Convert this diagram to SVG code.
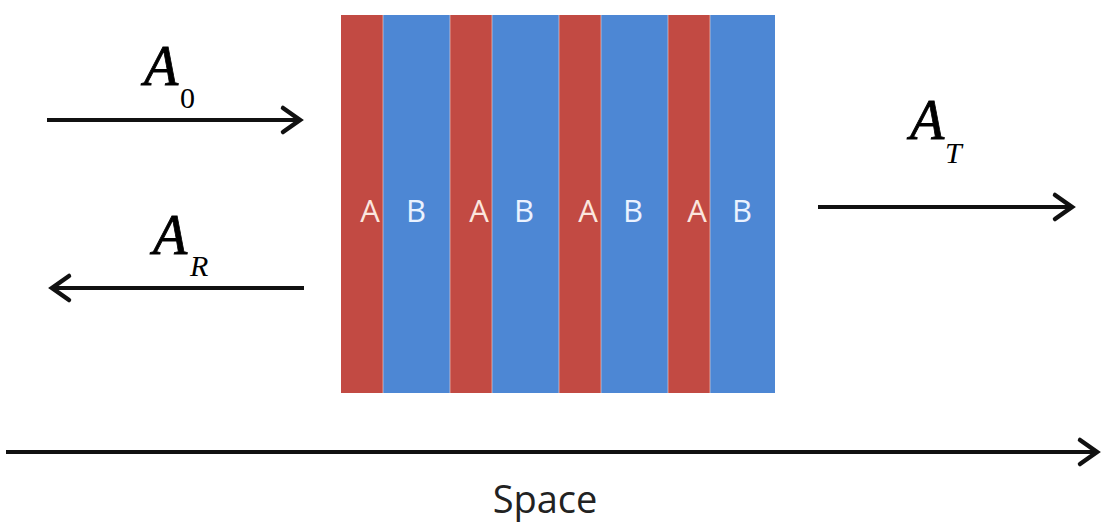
<svg xmlns="http://www.w3.org/2000/svg" width="1103" height="529" viewBox="0 0 1103 529">
  <style>
    .red { fill: #C24A43; }
    .blue { fill: #4D87D4; }
    .sep { stroke: #F4D9D4; stroke-width: 1; stroke-opacity: 0.6; }
    .lbl { font-family: "Open Sans", "Liberation Sans", sans-serif; font-size: 31px; text-anchor: middle; }
    .la { fill: #FBE6DE; }
    .lb { fill: #EAF2FF; }
    .math { font-family: "Liberation Serif", "DejaVu Serif", serif; fill: #000; }
    .big { font-size: 56px; font-style: italic; stroke: #000; stroke-width: 0.8; }
    .sub { font-size: 30px; }
    .it { font-style: italic; }
    .arr { stroke: #111; stroke-width: 4; fill: none; }
    .space { font-family: "Open Sans", "Liberation Sans", sans-serif; font-size: 38px; fill: #222; text-anchor: middle; }
  </style>
  <defs>
    <marker id="head" markerUnits="userSpaceOnUse" orient="auto" markerWidth="30" markerHeight="30" refX="0" refY="0" viewBox="-22 -15 26 30" overflow="visible">
      <path d="M-17,-12 L0,0 L-17,12" fill="none" stroke="#111" stroke-width="4.5" stroke-linejoin="miter" stroke-linecap="round"/>
    </marker>
  </defs>
  <rect width="1103" height="529" fill="#fff"/>

  <g id="stack">
    <rect class="red" x="341" y="15" width="42" height="378"/>
    <rect class="blue" x="383" y="15" width="67" height="378"/>
    <rect class="red" x="450" y="15" width="42" height="378"/>
    <rect class="blue" x="492" y="15" width="67" height="378"/>
    <rect class="red" x="559" y="15" width="42" height="378"/>
    <rect class="blue" x="601" y="15" width="67" height="378"/>
    <rect class="red" x="668" y="15" width="42" height="378"/>
    <rect class="blue" x="710" y="15" width="65" height="378"/>
    <line class="sep" x1="383" y1="15" x2="383" y2="393"/>
    <line class="sep" x1="450" y1="15" x2="450" y2="393"/>
    <line class="sep" x1="492" y1="15" x2="492" y2="393"/>
    <line class="sep" x1="559" y1="15" x2="559" y2="393"/>
    <line class="sep" x1="601" y1="15" x2="601" y2="393"/>
    <line class="sep" x1="668" y1="15" x2="668" y2="393"/>
    <line class="sep" x1="710" y1="15" x2="710" y2="393"/>
    <text class="lbl la" x="370" y="222">A</text>
    <text class="lbl lb" x="416" y="222">B</text>
    <text class="lbl la" x="479" y="222">A</text>
    <text class="lbl lb" x="524" y="222">B</text>
    <text class="lbl la" x="588" y="222">A</text>
    <text class="lbl lb" x="633" y="222">B</text>
    <text class="lbl la" x="697" y="222">A</text>
    <text class="lbl lb" x="742" y="222">B</text>
  </g>

  <g id="label-A0">
    <text class="math" x="144" y="85"><tspan class="big">A</tspan></text>
    <text class="math sub" x="180" y="108">0</text>
  </g>
  <g id="label-AR">
    <text class="math" x="153" y="254"><tspan class="big">A</tspan></text>
    <text class="math sub it" x="190" y="276">R</text>
  </g>
  <g id="label-AT">
    <text class="math" x="910" y="139"><tspan class="big">A</tspan></text>
    <text class="math sub it" x="945" y="163">T</text>
  </g>
  <g id="label-space">
    <text class="space" x="545" y="513">Space</text>
  </g>

  <g id="connectors">
    <path class="arr" d="M47,120 H300" marker-end="url(#head)"/>
    <path class="arr" d="M304,288 H52" marker-end="url(#head)"/>
    <path class="arr" d="M818,207 H1072" marker-end="url(#head)"/>
    <path class="arr" d="M6,452 H1097" stroke-width="4.5" marker-end="url(#head)"/>
  </g>
</svg>
